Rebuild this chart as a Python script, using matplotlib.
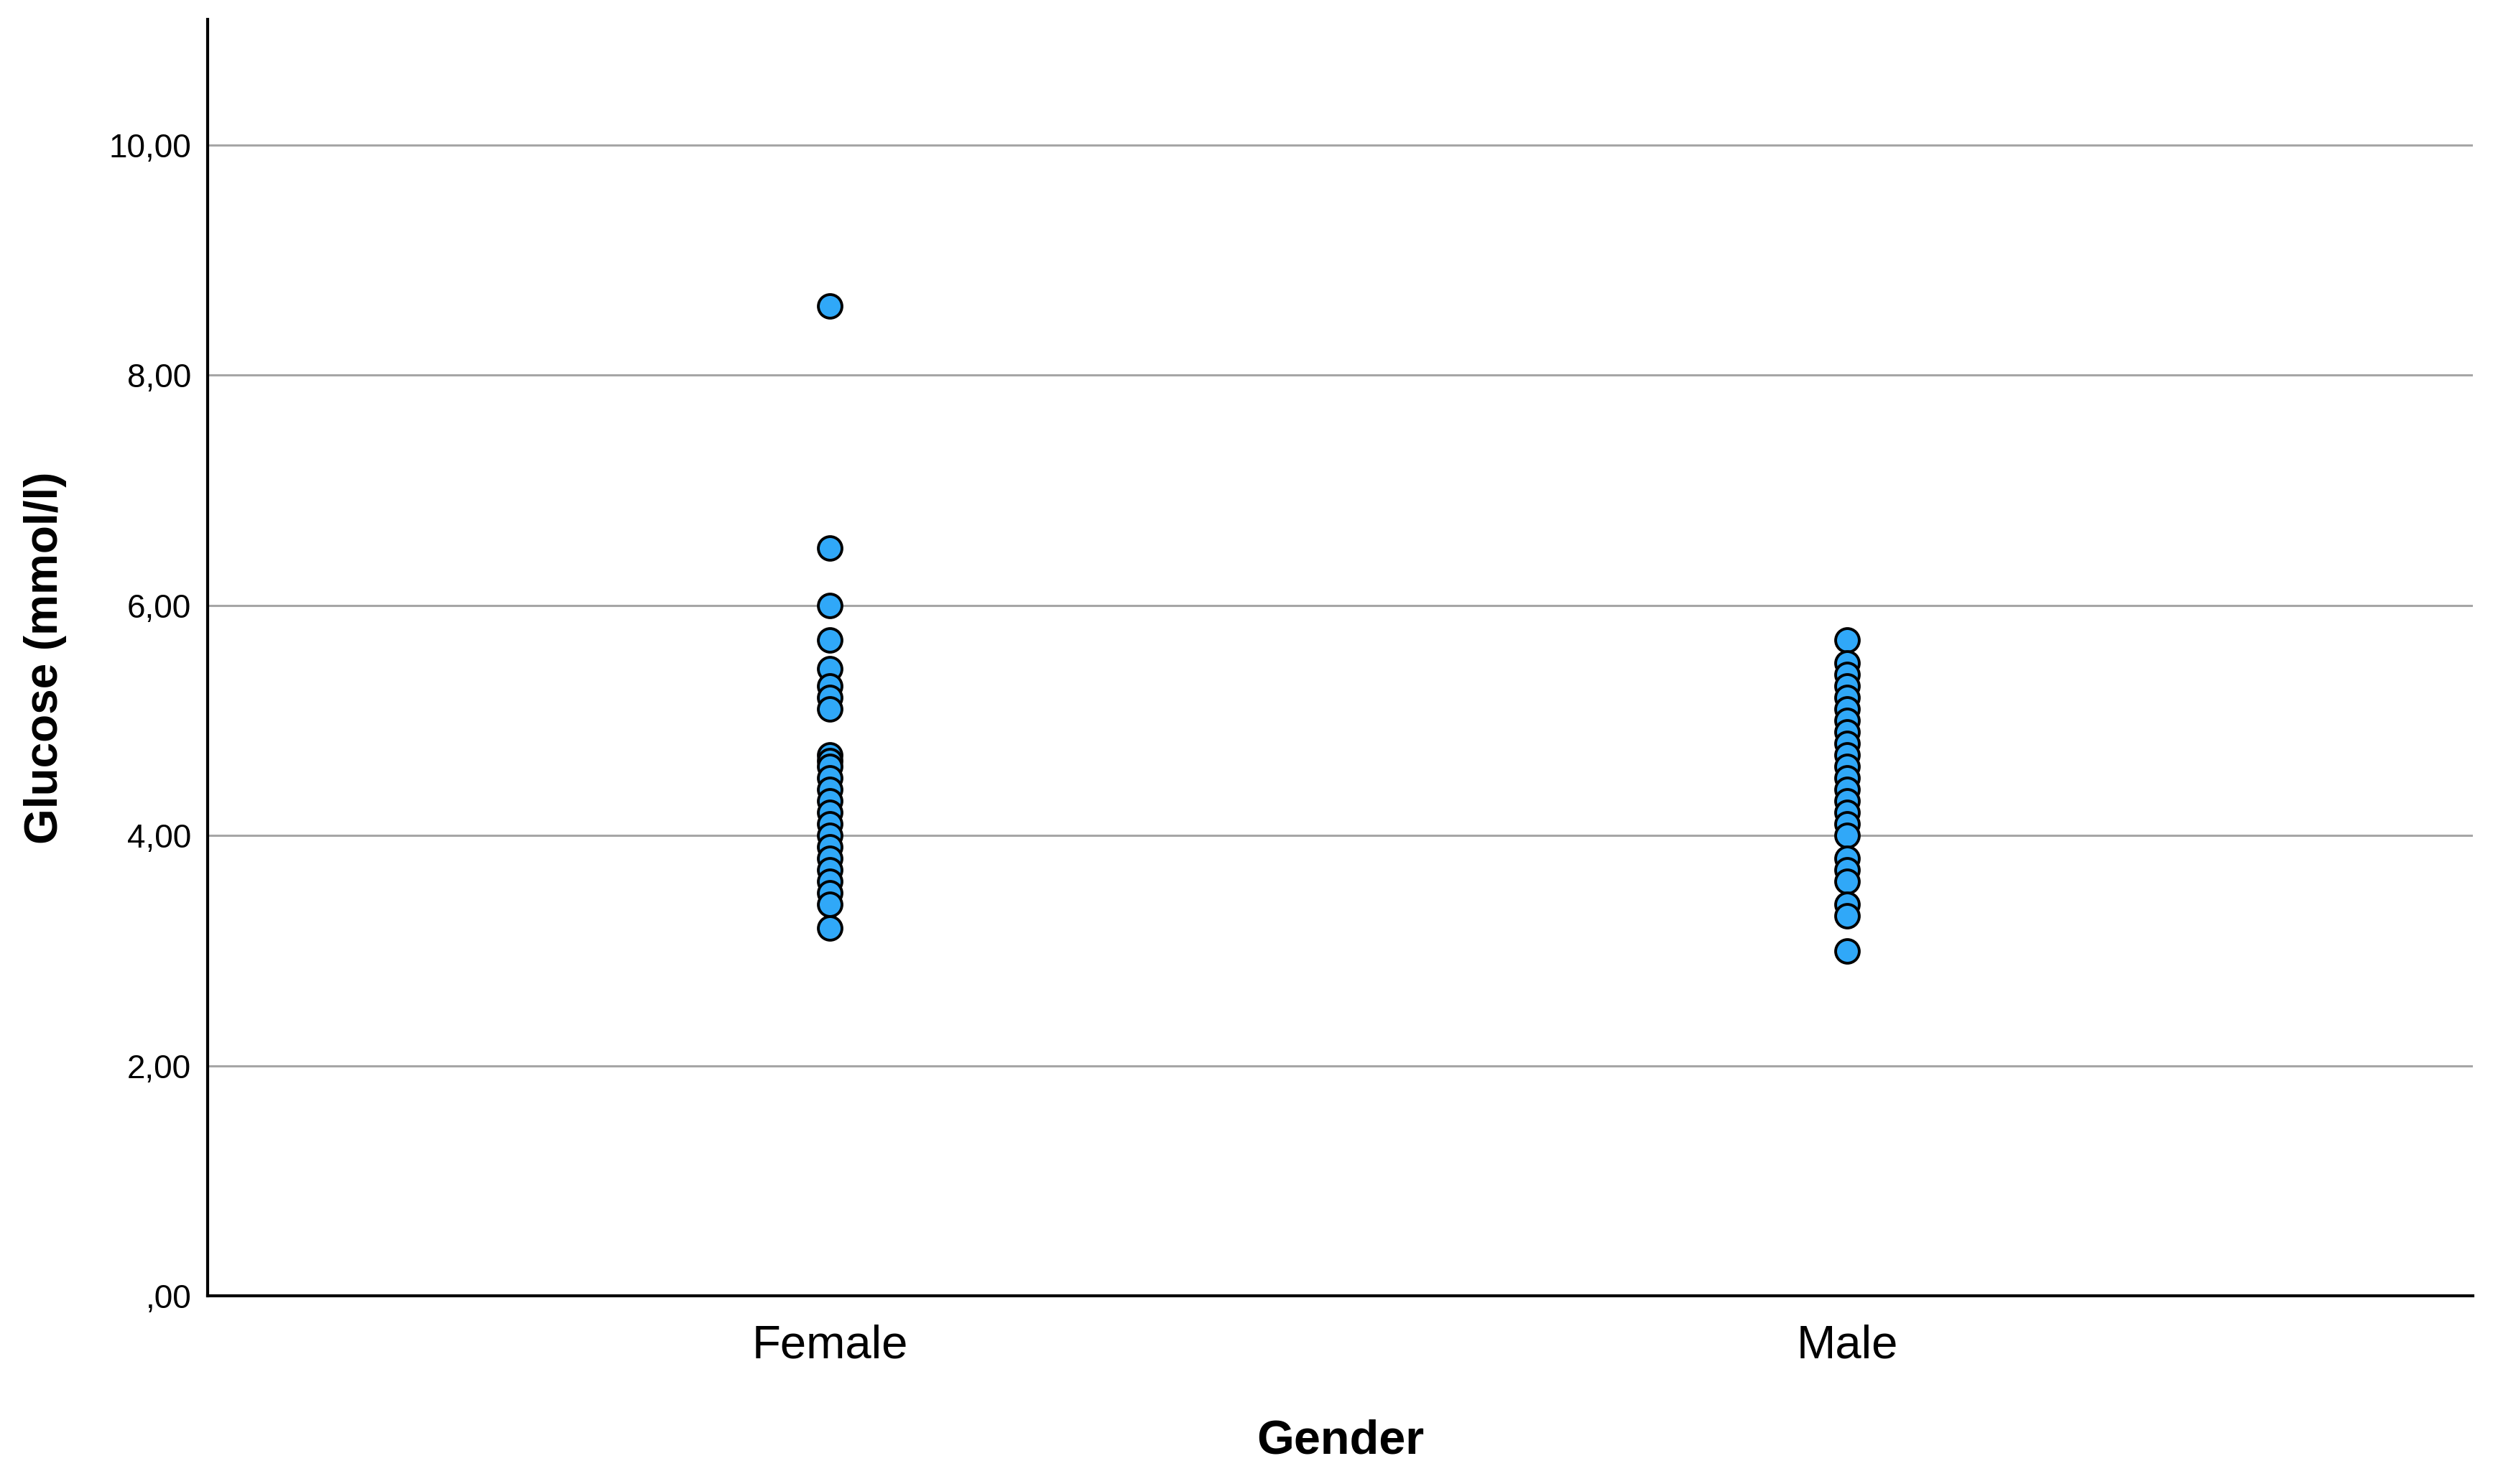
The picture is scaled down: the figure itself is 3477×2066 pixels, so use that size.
import numpy as np
import matplotlib.pyplot as plt

plt.rcParams['font.family'] = ['Liberation Sans', 'DejaVu Sans']

# --- data ---
groups = ['Female', 'Male']
female_glucose = [8.6, 6.5, 6.0, 5.7, 5.45, 5.3, 5.2, 5.1,
                  4.7, 4.65, 4.6, 4.5, 4.4, 4.3, 4.2, 4.1, 4.0,
                  3.9, 3.8, 3.7, 3.6, 3.5, 3.4, 3.2]
male_glucose = [5.7, 5.5, 5.4, 5.3, 5.2, 5.1, 5.0, 4.9, 4.8, 4.7,
                4.6, 4.5, 4.4, 4.3, 4.2, 4.1, 4.0, 3.8, 3.7, 3.6,
                3.4, 3.3, 3.0]
y_ticks = [0, 2, 4, 6, 8, 10]
y_tick_labels = [',00', '2,00', '4,00', '6,00', '8,00', '10,00']

fig = plt.figure(figsize=(34.77, 20.66), dpi=100)
ax = fig.add_axes([0.083, 0.1266, 0.907, 0.8604])

for i, vals in enumerate([female_glucose, male_glucose]):
    ax.scatter(np.full(len(vals), i), vals, s=560, c='#30a8f8',
               edgecolors='black', linewidths=2.8, zorder=3)

ax.set_xlim(-0.612, 1.615)
ax.set_ylim(0, 11.09)

for y in y_ticks[1:]:
    ax.axhline(y, color='#a6a6a6', lw=2.2, zorder=1)

ax.set_xticks(range(len(groups)))
ax.set_xticklabels(groups, fontsize=47)
ax.set_yticks(y_ticks)
ax.set_yticklabels(y_tick_labels, fontsize=33)
ax.tick_params(axis='x', length=0, pad=28)
ax.tick_params(axis='y', length=0, pad=16)

for s in ['top', 'right']:
    ax.spines[s].set_visible(False)
for s in ['left', 'bottom']:
    ax.spines[s].set_linewidth(3)
    ax.spines[s].set_color('black')

ax.set_xlabel('Gender', fontsize=48, fontweight='bold', labelpad=52)
ax.set_ylabel('Glucose (mmol/l)', fontsize=46, fontweight='bold', labelpad=42)

fig.savefig('out.png', dpi=100, facecolor='white')
